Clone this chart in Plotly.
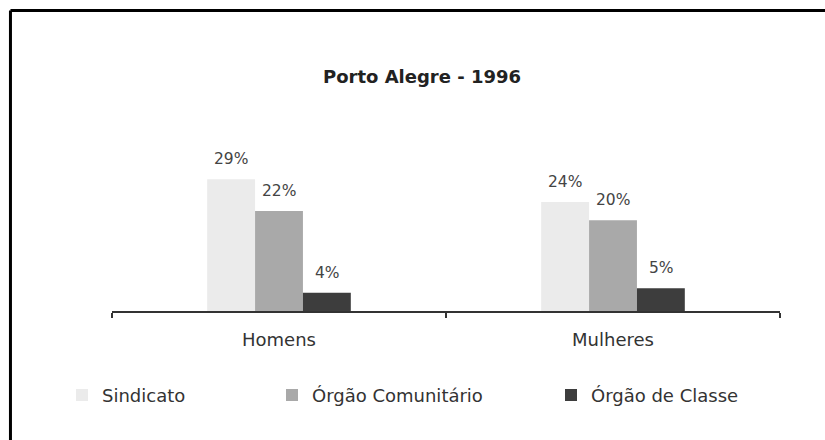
import plotly.graph_objects as go

# dados (Porto Alegre - 1996)
categorias = ["Homens", "Mulheres"]
sindicato = [0.29, 0.24]
orgao_comunitario = [0.22, 0.20]
orgao_classe = [0.04, 0.05]

series = [
    ("Sindicato", sindicato, "#ebebeb"),
    ("Órgão Comunitário", orgao_comunitario, "#a9a9a9"),
    ("Órgão de Classe", orgao_classe, "#3d3d3d"),
]

FONTE = "DejaVu Sans"

fig = go.Figure()
legend_ids = ["legend2", "legend3", "legend4"]
for (nome, vals, cor), lg in zip(series, legend_ids):
    fig.add_trace(go.Bar(x=categorias, y=vals, name=nome, marker_color=cor,
                         marker_line_width=0, legend=lg))

# rótulos de percentagem acima das barras
offsets = [-48, 0, 48]
for (nome, vals, cor), dx in zip(series, offsets):
    for cat, v in zip(categorias, vals):
        fig.add_annotation(x=cat, y=v, text=f"{round(v*100)}%", showarrow=False,
                           xshift=dx, yshift=20, yanchor="middle",
                           font=dict(family=FONTE, size=15.5, color="#444444"))

leg_style = dict(orientation="h", yanchor="middle", y=-0.53, xanchor="left",
                 font=dict(family=FONTE, size=18, color="#333333"),
                 bgcolor="rgba(0,0,0,0)", itemwidth=30)

fig.update_layout(
    width=825, height=440,
    margin=dict(l=112, r=45, t=152, b=129),
    paper_bgcolor="white", plot_bgcolor="white",
    font=dict(family=FONTE, size=18, color="#333333"),
    title=dict(text="<b>Porto Alegre - 1996</b>", x=422/825, xanchor="center",
               y=1-77/440, yanchor="middle", yref="container",
               font=dict(family=FONTE, size=18, color="#222222")),
    barmode="group", bargap=0.57, bargroupgap=0,
    showlegend=True,
    legend2=dict(leg_style, x=(62 - 112) / 668),
    legend3=dict(leg_style, x=(272 - 112) / 668),
    legend4=dict(leg_style, x=(551 - 112) / 668),
)
fig.update_xaxes(showline=True, linecolor="#333333", linewidth=2,
                 ticks="outside", tickson="boundaries", ticklen=5, tickwidth=2,
                 tickcolor="#333333", ticklabelstandoff=11,
                 tickfont=dict(family=FONTE, size=18, color="#333333"), showgrid=False)
fig.update_yaxes(visible=False, range=[0, 0.35], showgrid=False)

# moldura (topo e esquerda) como na imagem original
fig.add_shape(type="line", xref="paper", yref="paper", x0=-0.152, x1=1.07,
              y0=1.89, y1=1.89, line=dict(color="black", width=3))
fig.add_shape(type="line", xref="paper", yref="paper", x0=-0.152, x1=-0.152,
              y0=1.89, y1=-0.82, line=dict(color="black", width=3))

fig.write_html("out.html", config={"displayModeBar": False},
               post_script="document.body.style.margin='0';")
